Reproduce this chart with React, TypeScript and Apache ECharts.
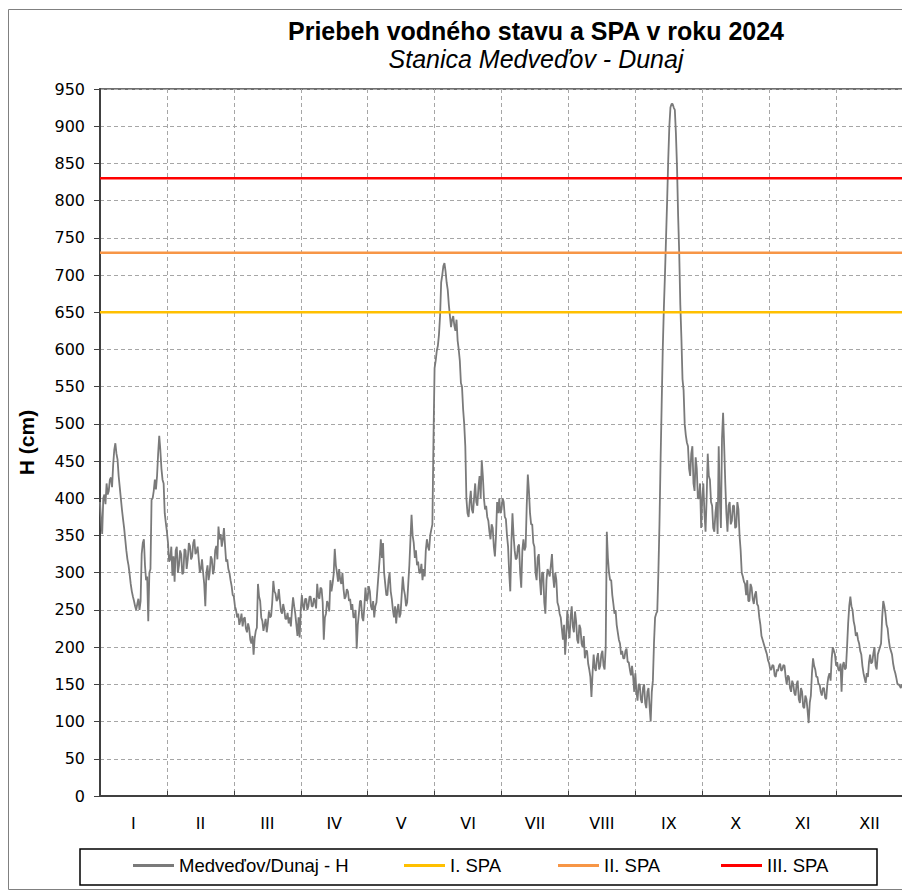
import React, { useEffect, useRef } from 'react';
import * as echarts from 'echarts';

const months = ['I', 'II', 'III', 'IV', 'V', 'VI', 'VII', 'VIII', 'IX', 'X', 'XI', 'XII'];

const seriesName = 'Medveďov/Dunaj - H';

// water level (cm); A = start of day, B = mid-day, day 0 = 1 Jan 2024
const levelJanA = [395, 352, 405, 420, 410, 428, 445, 474, 452, 415, 385, 360, 330, 310, 285, 268, 255, 258, 250, 325, 345, 290, 235, 305, 400, 425, 430, 484, 440, 420, 367];
const levelJanB = [370, 400, 392, 405, 425, 415, 465, 460, 430, 400, 372, 345, 318, 298, 275, 262, 250, 265, 262, 340, 310, 295, 300, 398, 410, 412, 460, 465, 425, 380, 355];
const levelFebA = [340, 318, 296, 288, 335, 310, 325, 300, 330, 318, 336, 322, 345, 328, 318, 305, 300, 255, 310, 300, 318, 305, 336, 362, 352, 345, 336, 318, 300];
const levelFebB = [315, 335, 322, 330, 300, 330, 298, 332, 305, 340, 318, 340, 325, 335, 300, 318, 285, 300, 290, 322, 298, 330, 318, 345, 335, 360, 315, 305, 290];
const levelMarA = [282, 268, 250, 245, 236, 228, 240, 220, 225, 205, 190, 222, 285, 262, 235, 230, 220, 248, 242, 289, 272, 265, 262, 245, 250, 238, 232, 228, 267, 245, 215];
const levelMarB = [270, 255, 240, 230, 245, 238, 225, 232, 210, 215, 212, 226, 268, 240, 222, 238, 232, 240, 260, 275, 262, 278, 248, 258, 238, 246, 240, 250, 255, 230, 240];
const levelAprA = [213, 270, 250, 265, 255, 268, 255, 262, 285, 265, 278, 210, 245, 258, 290, 285, 332, 300, 305, 285, 278, 268, 275, 265, 258, 240, 198, 245, 262, 235];
const levelAprB = [250, 255, 265, 250, 268, 255, 266, 252, 268, 280, 260, 240, 262, 248, 275, 298, 310, 288, 290, 300, 265, 278, 262, 250, 240, 250, 230, 262, 240, 255];
const levelMayA = [280, 265, 275, 250, 240, 260, 300, 345, 340, 285, 270, 300, 265, 240, 232, 258, 245, 295, 270, 260, 310, 378, 340, 330, 315, 300, 290, 295, 345, 330, 358];
const levelMayB = [262, 282, 255, 262, 255, 280, 320, 320, 300, 270, 290, 275, 250, 255, 250, 240, 270, 278, 255, 285, 345, 350, 320, 310, 300, 312, 305, 330, 335, 350, 365];
const levelJunA = [480, 585, 605, 645, 700, 716, 690, 660, 630, 645, 625, 612, 585, 550, 500, 400, 375, 410, 380, 420, 390, 430, 451, 400, 390, 370, 345, 360, 322, 395];
const levelJunB = [575, 598, 620, 690, 712, 705, 680, 645, 640, 632, 640, 600, 555, 520, 470, 380, 395, 385, 400, 395, 415, 400, 430, 385, 375, 355, 365, 335, 350, 380];
const levelJulA = [400, 385, 395, 372, 335, 275, 380, 330, 320, 338, 280, 345, 335, 432, 380, 365, 335, 290, 325, 270, 300, 245, 305, 295, 325, 280, 290, 255, 240, 210, 190];
const levelJulB = [380, 400, 375, 350, 300, 340, 350, 318, 335, 300, 330, 330, 390, 410, 365, 340, 300, 320, 290, 300, 260, 290, 300, 310, 295, 300, 260, 245, 225, 230, 215];
const levelAugA = [250, 212, 255, 220, 235, 205, 225, 200, 185, 195, 170, 133, 190, 168, 192, 175, 195, 170, 355, 300, 290, 258, 250, 220, 205, 195, 185, 198, 180, 162, 160];
const levelAugB = [225, 240, 228, 248, 210, 230, 205, 215, 195, 178, 160, 165, 172, 185, 170, 190, 175, 200, 320, 290, 270, 245, 230, 210, 190, 185, 195, 180, 170, 175, 140];
const levelSepA = [165, 128, 150, 125, 150, 118, 145, 100, 155, 240, 248, 365, 525, 655, 750, 855, 925, 930, 922, 845, 730, 615, 545, 485, 470, 430, 470, 410, 440, 400];
const levelSepB = [140, 150, 130, 145, 125, 140, 120, 140, 205, 245, 300, 450, 600, 700, 800, 900, 930, 925, 890, 780, 660, 560, 500, 475, 440, 460, 420, 455, 400, 420];
const levelOctA = [360, 420, 355, 460, 425, 390, 355, 395, 470, 360, 515, 420, 355, 395, 370, 390, 362, 385, 330, 295, 285, 290, 262, 280, 258, 275, 255, 230, 210, 200, 190];
const levelOctB = [400, 380, 400, 430, 395, 360, 380, 352, 400, 480, 470, 380, 390, 365, 390, 360, 395, 350, 300, 288, 270, 262, 285, 265, 270, 258, 240, 215, 205, 195, 182];
const levelNovA = [178, 170, 175, 160, 168, 178, 170, 175, 150, 160, 140, 150, 135, 155, 125, 140, 118, 130, 98, 135, 185, 170, 160, 150, 135, 145, 130, 160, 155, 200];
const levelNovB = [170, 176, 162, 170, 175, 168, 176, 160, 162, 145, 155, 138, 150, 130, 145, 120, 135, 115, 125, 165, 175, 160, 150, 140, 145, 132, 150, 165, 185, 195];
const levelDecA = [190, 180, 168, 140, 180, 172, 232, 268, 250, 228, 220, 205, 190, 165, 152, 160, 190, 180, 200, 170, 195, 205, 262, 245, 225, 200, 190, 170, 158, 150, 145];
const levelDecB = [175, 170, 178, 175, 170, 200, 255, 255, 235, 215, 210, 195, 175, 158, 165, 180, 178, 192, 175, 190, 200, 240, 255, 230, 210, 195, 178, 165, 150, 148, 150];

const levelA = [
  ...levelJanA, ...levelFebA, ...levelMarA, ...levelAprA, ...levelMayA, ...levelJunA,
  ...levelJulA, ...levelAugA, ...levelSepA, ...levelOctA, ...levelNovA, ...levelDecA,
];
const levelB = [
  ...levelJanB, ...levelFebB, ...levelMarB, ...levelAprB, ...levelMayB, ...levelJunB,
  ...levelJulB, ...levelAugB, ...levelSepB, ...levelOctB, ...levelNovB, ...levelDecB,
];

const spaNames = ['I. SPA', 'II. SPA', 'III. SPA'];
const spaLevels = [650, 730, 830];
const spaColors = ['#FFC000', '#F79646', '#FF0000'];

const ARIAL = 'Liberation Sans, Arial, sans-serif';
const WIDE = 'DejaVu Sans, Verdana, sans-serif';

export default function App() {
  const ref = useRef<HTMLDivElement>(null);

  useEffect(() => {
    if (!ref.current) return;
    const chart = echarts.init(ref.current, undefined, { renderer: 'svg' });
    const days = levelA.length;
    const hData: number[][] = [];
    levelA.forEach((v, i) => {
      hData.push([i, v]);
      if (levelB[i] !== undefined) hData.push([i + 0.5, levelB[i]]);
    });

    const legendLefts = [125, 396, 550, 713];
    const legendNames = [seriesName, ...spaNames];

    chart.setOption({
      animation: false,
      backgroundColor: '#ffffff',
      textStyle: { fontFamily: ARIAL },
      title: {
        text: 'Priebeh vodného stavu a SPA v roku 2024',
        subtext: 'Stanica Medveďov - Dunaj',
        left: 523,
        textAlign: 'center',
        top: 5,
        itemGap: 3,
        textStyle: { fontFamily: ARIAL, fontSize: 25, fontWeight: 'bold', color: '#000' },
        subtextStyle: { fontFamily: ARIAL, fontSize: 25, fontStyle: 'italic', color: '#000' },
      },
      grid: {
        left: 90,
        right: 7,
        top: 81,
        bottom: 94,
        show: true,
        borderColor: '#404040',
        borderWidth: 1.5,
      },
      xAxis: [
        {
          type: 'category',
          data: months,
          boundaryGap: true,
          axisLine: { lineStyle: { color: '#404040', width: 2 } },
          axisTick: { show: true, inside: true, length: 5, lineStyle: { color: '#404040' } },
          axisLabel: { margin: 19, fontSize: 16, color: '#000', fontFamily: WIDE },
          splitLine: { show: true, lineStyle: { color: '#a6a6a6', type: [4, 3], width: 1 } },
        },
        {
          type: 'value',
          min: 0,
          max: days,
          show: false,
        },
      ],
      yAxis: {
        type: 'value',
        min: 0,
        max: 950,
        interval: 50,
        name: 'H (cm)',
        nameLocation: 'middle',
        nameGap: 63,
        nameRotate: 90,
        nameTextStyle: { fontFamily: ARIAL, fontSize: 21, fontWeight: 'bold', color: '#000' },
        axisLine: { show: true, lineStyle: { color: '#404040', width: 2 } },
        axisTick: { show: true, length: 6, lineStyle: { color: '#404040' } },
        axisLabel: { fontSize: 16, color: '#000', margin: 15, fontFamily: WIDE },
        splitLine: { show: true, lineStyle: { color: '#a6a6a6', type: [4, 3], width: 1 } },
      },
      legend: legendNames.map((name, i) => ({
        data: [name],
        left: legendLefts[i],
        top: 848,
        icon: 'rect',
        itemWidth: 41,
        itemHeight: 3,
        padding: 0,
        textStyle: { fontFamily: ARIAL, fontSize: 18.5, color: '#000' },
      })),
      series: [
        {
          name: seriesName,
          type: 'line',
          xAxisIndex: 1,
          data: hData,
          symbol: 'none',
          lineStyle: { color: '#7a7a7a', width: 1.8 },
          itemStyle: { color: '#7a7a7a' },
          z: 2,
        },
        ...spaNames.map((name, i) => ({
          name,
          type: 'line',
          xAxisIndex: 1,
          data: [[0, spaLevels[i]], [days, spaLevels[i]]],
          symbol: 'none',
          lineStyle: { color: spaColors[i], width: 2.5 },
          itemStyle: { color: spaColors[i] },
          z: 3,
        })),
      ],
      graphic: [
        {
          type: 'rect',
          shape: { x: 72, y: 841, width: 797, height: 36 },
          style: { fill: 'none', stroke: '#000', lineWidth: 1.5 },
          silent: true,
        },
        {
          type: 'rect',
          shape: { x: 0.5, y: 1.5, width: 901, height: 880 },
          style: { fill: 'none', stroke: '#808080', lineWidth: 1 },
          silent: true,
        },
      ],
    });

    return () => chart.dispose();
  }, []);

  return <div ref={ref} style={{ width: 902, height: 882 }} />;
}
